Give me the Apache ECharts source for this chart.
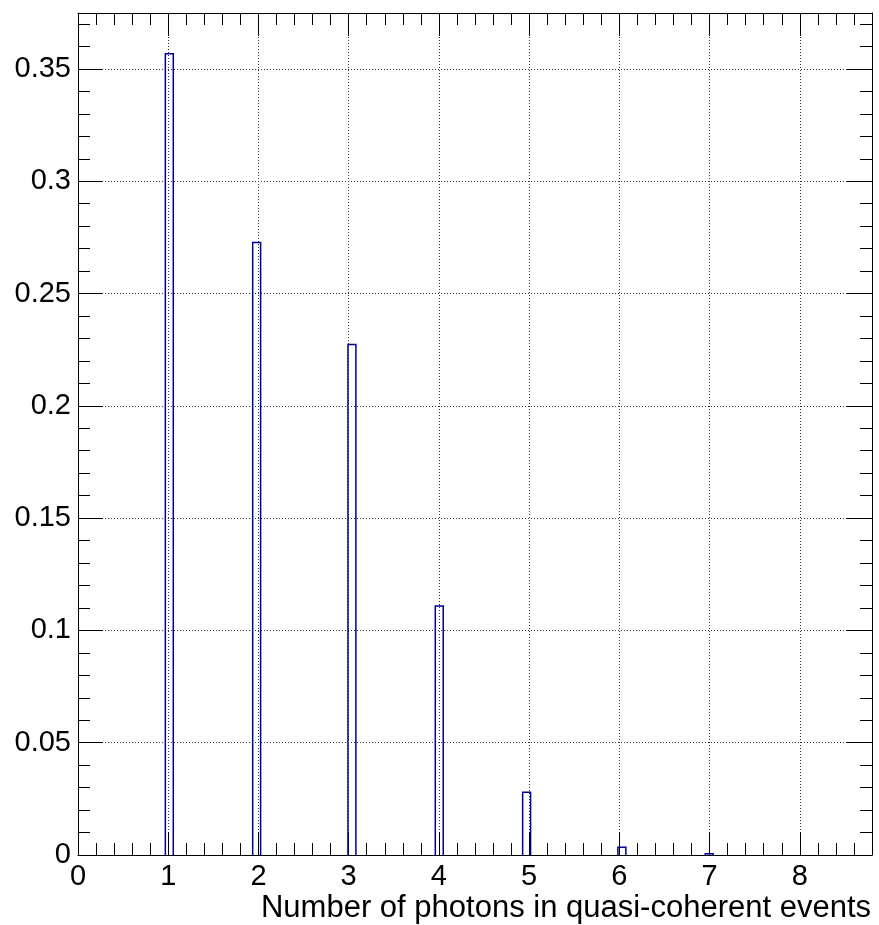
<!DOCTYPE html>
<html>
<head>
<meta charset="utf-8">
<script src="https://cdn.jsdelivr.net/npm/echarts@6/dist/echarts.min.js"></script>
<style>
html,body{margin:0;padding:0;background:#fff;}
#chart{width:879px;height:925px;}
</style>
</head>
<body>
<div id="chart"></div>
<script>
// Histogram bins (100 bins over 0..8.8, width 0.088); only non-empty bins listed
const binLow  = [0.968, 1.936, 2.992, 3.960, 4.928, 5.984, 6.952];
const binHigh = [1.056, 2.024, 3.080, 4.048, 5.016, 6.072, 7.040];
const binValues = [0.3568, 0.2727, 0.2273, 0.1109, 0.0279, 0.0034, 0.0006];
const xTitle = 'Number of photons in quasi-coherent events';
const xRange = [0, 8.8];
const yRange = [0, 0.3749];

const FONT = 'Liberation Sans, Arial, Helvetica, sans-serif';
const chart = echarts.init(document.getElementById('chart'), null, {renderer: 'canvas'});

function xAxisDef(position, interval, tickLen, withLabels, withSplit, withLine) {
  return {
    type: 'value', position: position, min: xRange[0], max: xRange[1], interval: interval,
    axisLine: {show: withLine, onZero: false, lineStyle: {color: '#000', width: 1}},
    axisTick: {show: true, inside: true, length: tickLen, lineStyle: {color: '#000', width: 1}},
    axisLabel: {
      show: withLabels, margin: 7, fontSize: 29, color: '#000', fontFamily: FONT,
      formatter: function (v) { return Math.abs(v - Math.round(v)) < 1e-6 ? String(Math.round(v)) : ''; }
    },
    splitLine: {show: withSplit, lineStyle: {color: '#333', width: 1, type: [1, 2]}},
    minorTick: {show: false}
  };
}
function yAxisDef(position, interval, tickLen, withLabels, withSplit, withLine) {
  return {
    type: 'value', position: position, min: yRange[0], max: yRange[1], interval: interval,
    axisLine: {show: withLine, onZero: false, lineStyle: {color: '#000', width: 1}},
    axisTick: {show: true, inside: true, length: tickLen, lineStyle: {color: '#000', width: 1}},
    axisLabel: {
      show: withLabels, margin: 7, fontSize: 29, color: '#000', fontFamily: FONT,
      formatter: function (v) {
        const k = v / 0.05;
        return Math.abs(k - Math.round(k)) < 1e-6 ? String(Math.round(k) * 5 / 100) : '';
      }
    },
    splitLine: {show: withSplit, lineStyle: {color: '#333', width: 1, type: [1, 2]}},
    minorTick: {show: false}
  };
}

const option = {
  backgroundColor: '#fff',
  animation: false,
  title: {
    text: xTitle, right: 3, top: 888,
    textStyle: {fontSize: 31, fontWeight: 'normal', color: '#000', fontFamily: FONT}
  },
  grid: {left: 78, right: 7, top: 13, bottom: 70, containLabel: false},
  xAxis: [
    xAxisDef('bottom', 1, 23, true, true, true),
    xAxisDef('bottom', 0.2, 12, false, false, false),
    xAxisDef('top', 1, 23, false, false, true),
    xAxisDef('top', 0.2, 12, false, false, false)
  ],
  yAxis: [
    yAxisDef('left', 0.05, 25, true, true, true),
    yAxisDef('left', 0.01, 12, false, false, false),
    yAxisDef('right', 0.05, 25, false, false, true),
    yAxisDef('right', 0.01, 12, false, false, false)
  ],
  series: [{
    type: 'custom',
    xAxisIndex: 0, yAxisIndex: 0,
    encode: {x: [0, 1], y: 2},
    data: binLow.map(function (lo, i) { return [lo, binHigh[i], binValues[i]]; }),
    renderItem: function (params, api) {
      const lo = api.value(0), hi = api.value(1), v = api.value(2);
      const pts = [api.coord([lo, 0]), api.coord([lo, v]), api.coord([hi, v]), api.coord([hi, 0])];
      return {
        type: 'polyline', z2: 10,
        shape: {points: pts},
        style: {stroke: '#000099', fill: null, lineWidth: 1.5}
      };
    }
  }]
};
chart.setOption(option);
</script>
</body>
</html>
